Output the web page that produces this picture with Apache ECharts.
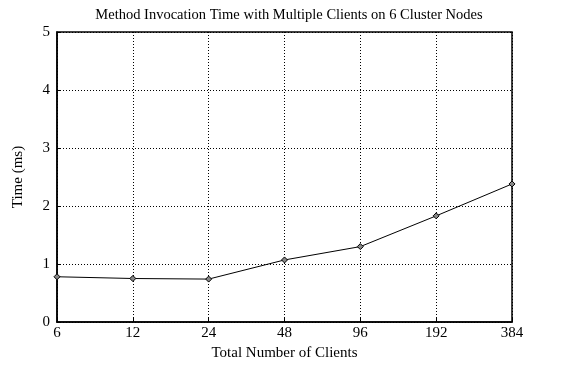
<!DOCTYPE html>
<html>
<head>
<meta charset="utf-8">
<script src="https://cdn.jsdelivr.net/npm/echarts@6/dist/echarts.min.js"></script>
<style>
  html, body { margin: 0; padding: 0; background: #fff; }
  #chart { width: 584px; height: 366px; }
</style>
</head>
<body>
<div id="chart"></div>
<script>
// Client counts (log-spaced categories) and mean invocation time in ms
const clients = ['6', '12', '24', '48', '96', '192', '384'];
const timeMs = [0.78, 0.75, 0.74, 1.07, 1.30, 1.83, 2.38];
const yTicks = [0, 1, 2, 3, 4, 5];

const FONT = '"Liberation Serif", "DejaVu Serif", serif';
const chart = echarts.init(document.getElementById('chart'), null, { renderer: 'canvas' });

const dotted = { show: true, lineStyle: { color: '#000', type: [1, 2], width: 1 } };

chart.setOption({
  animation: false,
  backgroundColor: '#fff',
  title: {
    text: 'Method Invocation Time with Multiple Clients on 6 Cluster Nodes',
    left: 284, top: 3, textAlign: 'center',
    textStyle: { fontFamily: FONT, fontSize: 14.5, fontWeight: 'normal', color: '#000' }
  },
  grid: {
    left: 57, right: 72, top: 32, bottom: 44,
    show: true, borderColor: '#000', borderWidth: 1.5
  },
  xAxis: {
    type: 'category',
    data: clients,
    boundaryGap: false,
    name: 'Total Number of Clients',
    nameLocation: 'middle',
    nameGap: 24,
    nameTextStyle: { fontFamily: FONT, fontSize: 15, color: '#000' },
    axisLine: { show: true, lineStyle: { color: '#000', width: 1.5 } },
    axisTick: { show: true, inside: true, length: 4, lineStyle: { color: '#000' } },
    axisLabel: { fontFamily: FONT, fontSize: 15, color: '#000', margin: 4 },
    splitLine: dotted
  },
  yAxis: {
    type: 'value',
    min: yTicks[0], max: yTicks[yTicks.length - 1], interval: 1,
    name: 'Time (ms)',
    nameLocation: 'middle',
    nameGap: 31,
    nameTextStyle: { fontFamily: FONT, fontSize: 15, color: '#000' },
    axisLine: { show: true, lineStyle: { color: '#000', width: 1.5 } },
    axisTick: { show: true, inside: true, length: 4, lineStyle: { color: '#000' } },
    axisLabel: { fontFamily: FONT, fontSize: 15, color: '#000', margin: 7 },
    splitLine: dotted
  },
  series: [{
    type: 'line',
    data: timeMs,
    symbol: 'diamond',
    symbolSize: 6,
    showAllSymbol: true,
    lineStyle: { color: '#000', width: 1 },
    itemStyle: { color: '#888', borderColor: '#000', borderWidth: 1 }
  }]
});
</script>
</body>
</html>
